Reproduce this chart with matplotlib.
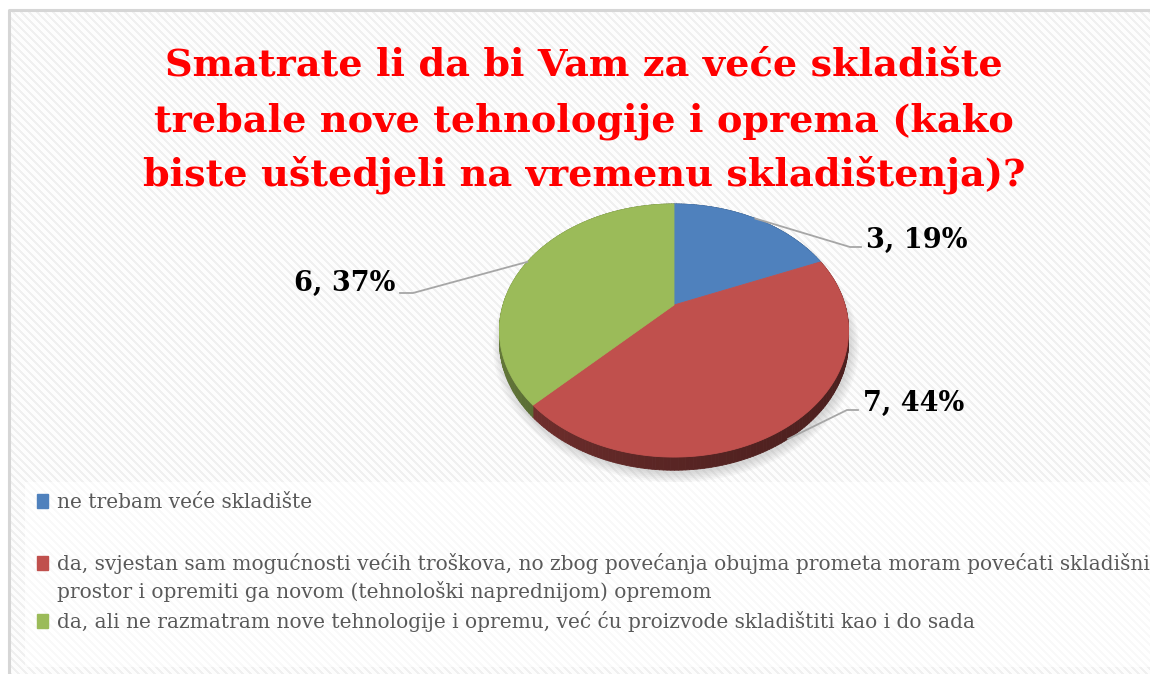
import numpy as np
import matplotlib
matplotlib.use("Agg")
import matplotlib.pyplot as plt
from matplotlib.collections import PolyCollection
from matplotlib.colors import to_rgb

W, H = 1150, 674

title = ("Smatrate li da bi Vam za veće skladište\n"
         "trebale nove tehnologije i oprema (kako\n"
         "biste uštedjeli na vremenu skladištenja)?")
answers = [
    "ne trebam veće skladište",
    "da, svjestan sam mogućnosti većih troškova, no zbog povećanja obujma prometa moram povećati skladišni\n"
    "prostor i opremiti ga novom (tehnološki naprednijom) opremom",
    "da, ali ne razmatram nove tehnologije i opremu, već ću proizvode skladištiti kao i do sada",
]
counts = [3, 7, 6]
percents = [19, 44, 37]

colors = ["#4f81bd", "#c0504d", "#9bbb59"]

# tilted pie seen in perspective (pixel units, y down)
apex_x, apex_y = 674, 305
sx, sz, persp = 171, 121.4, 0.2017
depth = 10.5


def project(t_deg, r=1.0):
    # t measured clockwise from 12 o'clock on the pie's ground plane
    t = np.deg2rad(t_deg)
    x, z = r * np.sin(t), r * np.cos(t)
    f = 1 + persp * z
    return apex_x + sx * x / f, apex_y - sz * z / f, f


fig = plt.figure(figsize=(W / 100, H / 100), dpi=100)
ax = fig.add_axes([0, 0, 1, 1])
ax.set_xlim(0, W)
ax.set_ylim(H, 0)
ax.set_axis_off()

# striped chart area background
rows, cols = np.indices((H, W))
band = ((cols - rows) % 8) < 3
img = np.where(band, 0.94, 0.99)
legend_zone = (rows >= 482) & (rows <= 666) & (cols >= 25)
img = np.where(legend_zone, np.where(band, 0.975, 1.0), img)
img[:10, :] = 1.0
img[:, :9] = 1.0
ax.imshow(img, cmap="gray", vmin=0, vmax=1, extent=(0, W, H, 0),
          interpolation="nearest", zorder=0)
ax.plot([9, 9, W], [H, 10, 10], color="#d6d6d6", lw=2.2,
        solid_capstyle="butt", zorder=1)

edges = 360 * np.cumsum([0] + counts) / sum(counts)

# soft shadow under the pie
ring = np.linspace(0, 360, 200)
for grow in np.linspace(1.045, 1.0, 6):
    gx, gy, gf = project(ring, grow)
    ax.fill(gx + 2, gy + depth / gf + 3, color="#7f7f7f", alpha=0.05,
            lw=0, zorder=2)

# outer wall, shaded darker towards the right
quads, shades = [], []
for a, b, col in zip(edges[:-1], edges[1:], colors):
    ts = np.linspace(a, b, max(int(b - a), 2) + 1)
    xs, ys, fs = project(ts)
    for i in range(len(ts) - 1):
        quads.append([(xs[i], ys[i]), (xs[i + 1], ys[i + 1]),
                      (xs[i + 1], ys[i + 1] + depth / fs[i + 1]),
                      (xs[i], ys[i] + depth / fs[i])])
        lean = (1 - np.sin(np.deg2rad((ts[i] + ts[i + 1]) / 2))) / 2
        shades.append(np.array(to_rgb(col)) * (0.40 + 0.25 * lean ** 2))
ax.add_collection(PolyCollection(quads, facecolors=shades, edgecolors=shades,
                                 linewidths=0.6, zorder=3))

# top faces
for a, b, col in zip(edges[:-1], edges[1:], colors):
    ts = np.linspace(a, b, max(int(b - a), 2) + 1)
    xs, ys, _ = project(ts)
    ax.fill(np.r_[apex_x, xs], np.r_[apex_y, ys], color=col, lw=0.6,
            ec=col, zorder=4)

# data labels with leader lines: (text x, text y, line y, alignment)
label_spots = [(866, 240, 247, "left"), (863, 403, 410, "left"),
               (395, 283, 293, "right")]
for a, b, n, p, (tx, ty, ly, ha) in zip(edges[:-1], edges[1:], counts,
                                         percents, label_spots):
    mx, my, mf = project((a + b) / 2)
    if np.cos(np.deg2rad((a + b) / 2)) < -0.3:
        my += depth / mf
    if ha == "left":
        lx = [mx, tx - 16, tx - 5]
    else:
        lx = [mx, tx + 18, tx + 5]
    ax.plot(lx, [my, ly, ly], color="#a6a6a6", lw=1.3, zorder=5)
    ax.text(tx, ty, f"{n}, {p}%", ha=ha, va="center", fontsize=19.5,
            fontweight="bold", family="DejaVu Serif", color="black", zorder=6)

# title
for i, line in enumerate(title.split("\n")):
    ax.text(584, 76 + i * 55, line, ha="center", va="baseline",
            fontsize=27.5, fontweight="bold", family="DejaVu Serif",
            color="#ff0000", zorder=6)

# legend
baselines = [508, 570, 628]
for ans, col, base in zip(answers, colors, baselines):
    ax.add_patch(plt.Rectangle((37, base - 14), 11, 14, color=col, zorder=6))
    for j, line in enumerate(ans.split("\n")):
        ax.text(57, base + j * 28, line, ha="left", va="baseline",
                fontsize=14.5, family="DejaVu Serif", color="#595959", zorder=6)

fig.savefig("out.png", dpi=100)
